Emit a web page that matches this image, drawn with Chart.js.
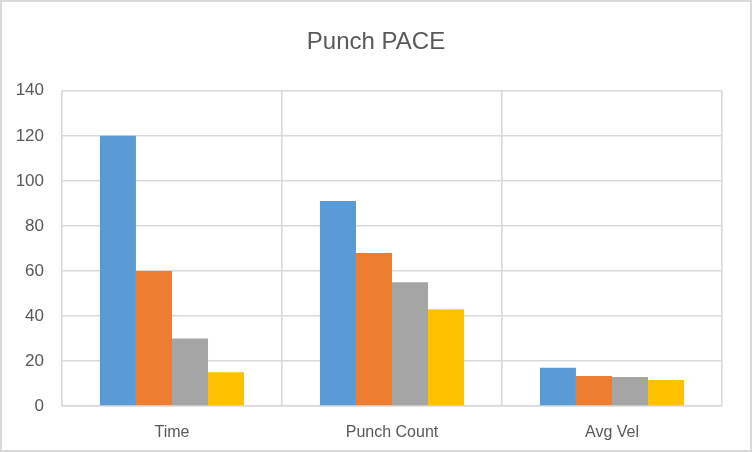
<!DOCTYPE html>
<html lang="en">
<head>
  <meta charset="UTF-8" />
  <title>Punch PACE</title>
  <script src="https://cdn.jsdelivr.net/npm/chart.js"></script>
  <style>
    html, body { margin: 0; padding: 0; background: #fff; }
    #wrap { width: 752px; height: 452px; position: relative; }
  </style>
</head>
<body>
  <div id="wrap"><canvas id="paceChart"></canvas></div>
  <script>
    // categories and series values
    const categories = ['Time', 'Punch Count', 'Avg Vel'];
    const series1 = [120, 91, 17];
    const series2 = [60, 68, 13.3];
    const series3 = [30, 55, 12.9];
    const series4 = [15, 43, 11.6];
    const colors = ['#5B9BD5', '#ED7D31', '#A5A5A5', '#FFC000'];

    const textColor = '#595959';
    const gridColor = '#d9d9d9';
    const fontFamily = "'Liberation Sans', Arial, sans-serif";

    // white background + outer border like the spreadsheet chart
    const frame = {
      id: 'frame',
      beforeDraw(chart) {
        const c = chart.ctx;
        c.save();
        c.fillStyle = '#fff';
        c.fillRect(0, 0, chart.width, chart.height);
        c.strokeStyle = gridColor;
        c.lineWidth = 2;
        c.strokeRect(1, 1, chart.width - 2, chart.height - 2);
        c.restore();
      }
    };

    const ctx = document.getElementById('paceChart').getContext('2d');
    new Chart(ctx, {
      type: 'bar',
      data: {
        labels: categories,
        datasets: [series1, series2, series3, series4].map((d, i) => ({
          label: 'Series' + (i + 1),
          data: d,
          backgroundColor: colors[i],
          borderWidth: 0,
          barPercentage: 1,
          categoryPercentage: 0.655
        }))
      },
      options: {
        responsive: true,
        maintainAspectRatio: false,
        animation: false,
        layout: { padding: 0 },
        plugins: {
          legend: { display: false },
          tooltip: { enabled: false },
          title: {
            display: true,
            text: 'Punch PACE',
            color: textColor,
            font: { family: fontFamily, size: 24, weight: 'normal' },
            padding: { top: 28, bottom: 34 }
          }
        },
        scales: {
          x: {
            grid: { color: gridColor, lineWidth: 1.6, offset: true, drawTicks: false },
            border: { color: gridColor, width: 1.6 },
            ticks: { color: textColor, font: { family: fontFamily, size: 16 }, padding: 17 },
            afterFit(scale) { scale.height = 46; }
          },
          y: {
            min: 0,
            max: 140,
            ticks: { stepSize: 20, color: textColor, font: { family: fontFamily, size: 17 }, padding: 18 },
            grid: { color: gridColor, lineWidth: 1.6, drawTicks: false },
            border: { display: false },
            afterFit(scale) { scale.width = 62; }
          },
          // empty right-hand spacer so the title stays centred on the canvas
          spacer: {
            position: 'right',
            display: true,
            ticks: { display: false },
            grid: { display: false },
            border: { display: false },
            afterFit(scale) { scale.width = 30; }
          }
        }
      },
      plugins: [frame]
    });
  </script>
</body>
</html>
